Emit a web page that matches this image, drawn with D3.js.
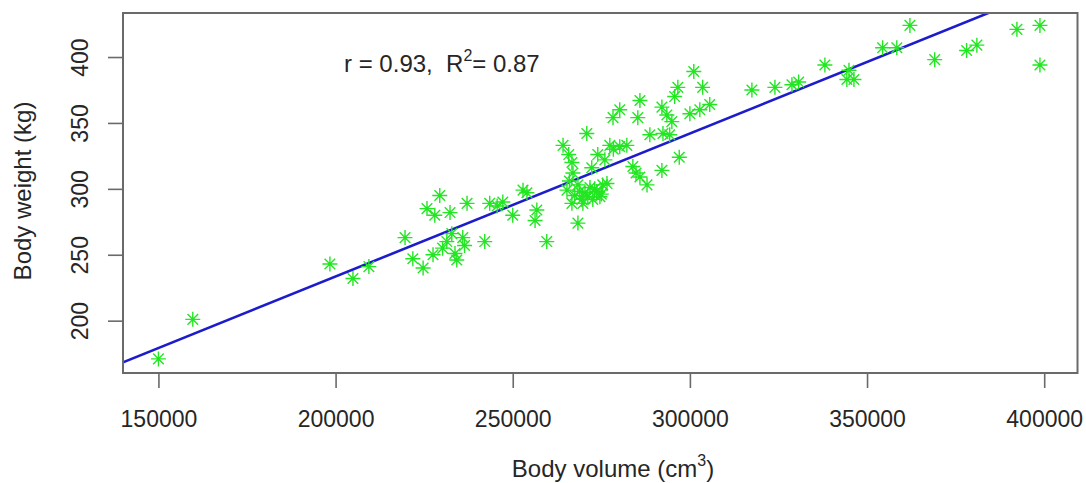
<!DOCTYPE html>
<html>
  <head>
    <meta charset="utf-8">
    <title>Body weight vs body volume</title>
    <script src="https://cdn.jsdelivr.net/npm/d3@7"></script>
    <style>
      body { margin: 0; background: #fff; }
      text { font-family: "Liberation Sans", Arial, sans-serif; fill: #262626; }
    </style>
  </head>
  <body>
  <svg width="1086" height="483"></svg>
  <script>
    // values
    var volume = [150000, 159700, 198400, 204900, 209400, 219600, 221800, 224700, 225800, 227500,
                  228000, 229400, 231400, 232300, 233700, 234200, 235900, 237100, 242100, 243500,
                  247200, 250000, 252900, 254000, 256300, 256800, 259600, 264200, 265300, 265800,
                  266700, 267000, 266700, 267500, 268400, 268400, 269500, 270400, 270900, 271800,
                  272300, 272600, 273700, 274000, 274600, 275400, 276000, 276600, 277400, 278300,
                  280200, 280200, 282200, 283900, 284800, 285300, 285900, 285900, 287900, 288700,
                  292100, 292100, 292400, 293500, 294300, 294900, 295700, 296600, 297000, 300000,
                  301100, 302800, 303600, 305600, 317500, 324000, 328800, 330700, 338100, 344300,
                  344900, 346300, 354400, 358400, 362100, 369100, 378100, 381000, 392300, 398800,
                  398800, 230200, 232800, 236400, 245600, 266000, 268900, 271200, 273100, 275000,
                  269800, 278400];
    var weight = [171, 201, 243, 232, 241, 263, 247, 240, 285, 250,
                  280, 295, 260, 282, 251, 246, 263, 289, 260, 289,
                  290, 280, 299, 297, 276, 284, 260, 333, 299, 326,
                  320, 312, 289, 295, 303, 274, 292, 297, 342, 301,
                  316, 292, 298, 326, 294, 303, 322, 304, 333, 354,
                  360, 332, 333, 317, 312, 354, 367, 309, 303, 341,
                  362, 314, 342, 356, 341, 351, 370, 377, 324, 357,
                  389, 360, 377, 364, 375, 377, 379, 381, 394, 383,
                  390, 383, 407, 407, 424, 398, 405, 409, 421, 424,
                  394, 255, 266, 257, 287, 306, 298, 294, 300, 296,
                  289, 330];

    var xTicks = [150000, 200000, 250000, 300000, 350000, 400000];
    var yTicks = [200, 250, 300, 350, 400];

    // fitted line
    var fitIntercept = 16.5;
    var fitSlope = 0.001085;
    var statsText = ["r = 0.93,  R", "2", "= 0.87"];

    var svg = d3.select("svg");
    var plot = {left: 123, right: 1077.5, top: 13, bottom: 373};

    var x = d3.scaleLinear().domain([140000, 409400]).range([plot.left, plot.right]);
    var y = d3.scaleLinear().domain([160.3, 433.4]).range([plot.bottom, plot.top]);

    svg.append("clipPath").attr("id", "clip")
      .append("rect")
      .attr("x", plot.left).attr("y", plot.top)
      .attr("width", plot.right - plot.left).attr("height", plot.bottom - plot.top);

    // regression line
    var x0 = x.domain()[0], x1 = x.domain()[1];
    svg.append("line")
      .attr("clip-path", "url(#clip)")
      .attr("x1", x(x0)).attr("y1", y(fitIntercept + fitSlope * x0))
      .attr("x2", x(x1)).attr("y2", y(fitIntercept + fitSlope * x1))
      .attr("stroke", "#1c1ccc")
      .attr("stroke-width", 2.6);

    // asterisk points (pch = 8)
    var pts = d3.range(volume.length);
    svg.append("g")
      .selectAll("path")
      .data(pts)
      .enter()
      .append("path")
      .attr("transform", function(i) { return "translate(" + x(volume[i]) + "," + y(weight[i]) + ")"; })
      .attr("d", "M-7.5,0H7.5M0,-7.5V7.5M-5.3,-5.3L5.3,5.3M-5.3,5.3L5.3,-5.3")
      .attr("fill", "none")
      .attr("stroke", "#22e622")
      .attr("stroke-width", 1.4);

    // box
    svg.append("rect")
      .attr("x", plot.left).attr("y", plot.top)
      .attr("width", plot.right - plot.left).attr("height", plot.bottom - plot.top)
      .attr("fill", "none")
      .attr("stroke", "#6a6a6a")
      .attr("stroke-width", 2);

    // x axis
    var gx = svg.append("g")
      .attr("transform", "translate(0," + plot.bottom + ")")
      .call(d3.axisBottom(x).tickValues(xTicks).tickSize(15).tickFormat(d3.format("d")));
    gx.select(".domain").remove();
    gx.attr("font-family", null);
    gx.selectAll("line").attr("stroke", "#6a6a6a").attr("stroke-width", 1.6);
    gx.selectAll("text")
      .attr("y", 54).attr("dy", 0)
      .attr("font-size", 23)
      .attr("fill", null);

    // y axis
    var gy = svg.append("g")
      .attr("transform", "translate(" + plot.left + ",0)")
      .call(d3.axisLeft(y).tickValues(yTicks).tickSize(15));
    gy.select(".domain").remove();
    gy.attr("font-family", null);
    gy.selectAll("line").attr("stroke", "#6a6a6a").attr("stroke-width", 1.6);
    gy.selectAll("text")
      .attr("transform", "rotate(-90)")
      .attr("x", 0).attr("y", -35).attr("dy", 0)
      .attr("text-anchor", "middle")
      .attr("font-size", 23)
      .attr("fill", null);

    // stats annotation
    var st = svg.append("text")
      .attr("x", x(230000)).attr("y", y(395) + 8.5)
      .attr("text-anchor", "middle")
      .attr("font-size", 24)
      .style("white-space", "pre");
    st.append("tspan").text(statsText[0]);
    st.append("tspan").attr("font-size", 16).attr("dy", -11).text(statsText[1]);
    st.append("tspan").attr("dy", 11).text(statsText[2]);

    // axis titles
    var xt = svg.append("text")
      .attr("x", 613).attr("y", 477)
      .attr("text-anchor", "middle")
      .attr("font-size", 24);
    xt.append("tspan").text("Body volume (cm");
    xt.append("tspan").attr("font-size", 16).attr("dy", -11).text("3");
    xt.append("tspan").attr("dy", 11).text(")");

    svg.append("text")
      .attr("transform", "translate(31,191) rotate(-90)")
      .attr("text-anchor", "middle")
      .attr("font-size", 24)
      .text("Body weight (kg)");
  </script>
  </body>
</html>
